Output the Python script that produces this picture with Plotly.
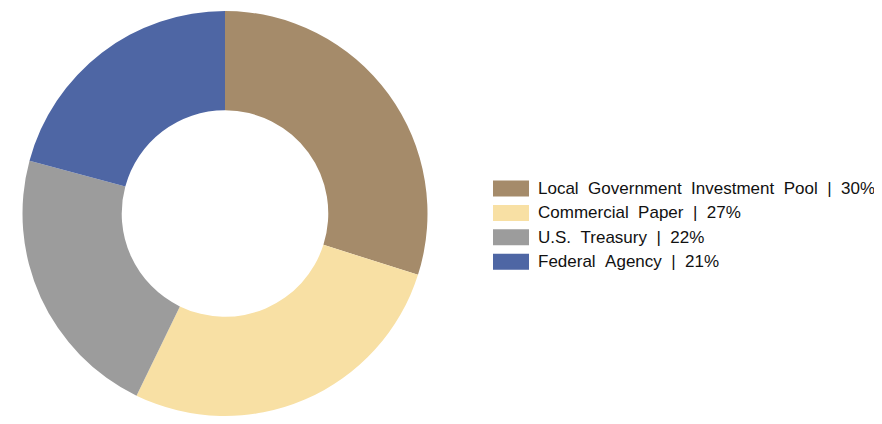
import plotly.graph_objects as go

# portfolio allocation
labels = ["Local Government Investment Pool", "Commercial Paper", "U.S. Treasury", "Federal Agency"]
values = [29.9, 27.3, 22.0, 20.8]
pct_labels = ["30%", "27%", "22%", "21%"]
colors = ["#A58B6A", "#F8E0A4", "#9C9C9C", "#4E66A4"]

# page has an 8px body margin, so the figure is 866x408 at (8, 8)
OFF = 8
W, H = 866, 408
T, B = 3, 0


def px_x(x):
    return (x - OFF) / W


def px_y(y):
    return 1 - (y - OFF - T) / (H - T - B)


fig = go.Figure(go.Pie(
    labels=labels,
    values=values,
    hole=0.51,
    sort=False,
    direction="clockwise",
    rotation=0,
    marker=dict(colors=colors, line=dict(width=0)),
    textinfo="none",
    hoverinfo="label+percent",
    showlegend=False,
    domain=dict(x=[0, 2 * (225 - OFF) / W], y=[0, 1]),
))

# legend drawn as swatches + text so the swatches can be wide rectangles
for i, (lab, pct, col) in enumerate(zip(labels, pct_labels, colors)):
    cy = 188.5 + i * 24.4
    fig.add_shape(type="rect", xref="paper", yref="paper",
                  x0=px_x(493), x1=px_x(529), y0=px_y(cy - 8), y1=px_y(cy + 8),
                  fillcolor=col, line=dict(width=0))
    txt = f"{lab} | {pct}".replace(" ", " \u00a0")
    fig.add_annotation(xref="paper", yref="paper", x=px_x(536), y=px_y(cy),
                       text=txt, showarrow=False,
                       xanchor="left", yanchor="middle",
                       font=dict(family="Liberation Sans, Arial", size=17, color="#111111"))

fig.update_layout(
    margin=dict(l=0, r=0, t=T, b=B),
    paper_bgcolor="white",
    plot_bgcolor="white",
)

fig.write_html("out.html")
